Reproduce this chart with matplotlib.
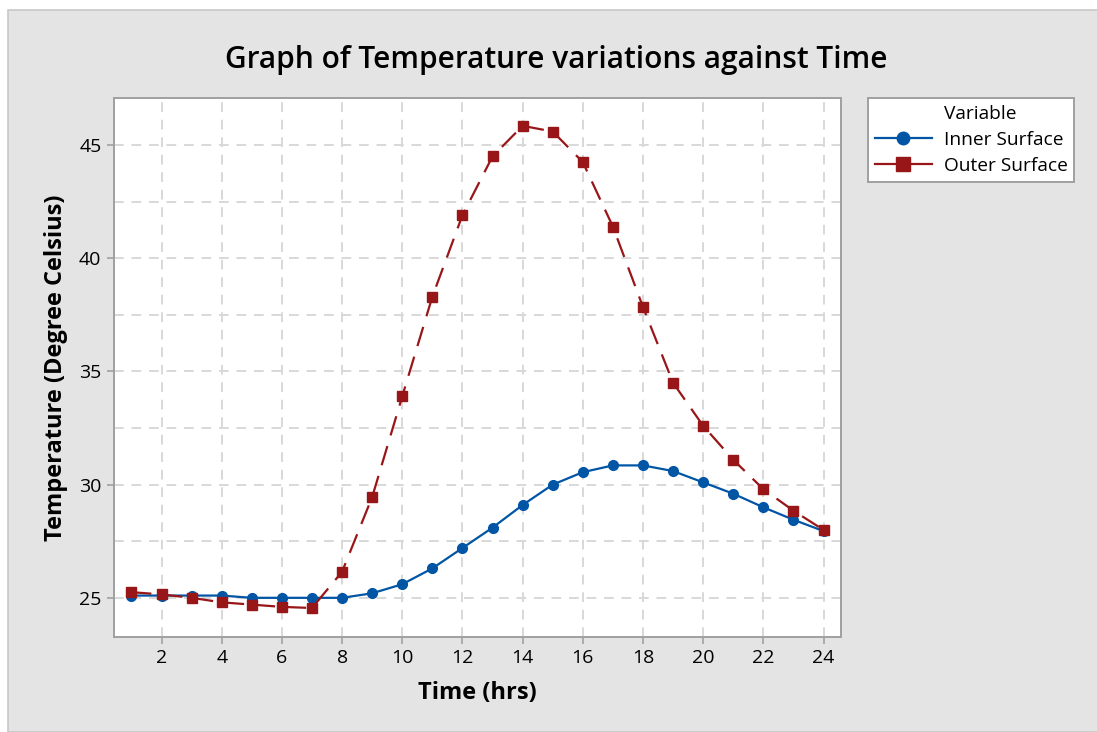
import matplotlib.pyplot as plt
from matplotlib.patches import Rectangle
from matplotlib.lines import Line2D
from matplotlib.ticker import MultipleLocator

# data
hours = list(range(1, 25))
inner_surface = [25.1, 25.1, 25.1, 25.1, 25.0, 25.0, 25.0, 25.0, 25.2, 25.6, 26.3, 27.2,
                 28.1, 29.1, 30.0, 30.55, 30.85, 30.85, 30.6, 30.1, 29.6, 29.0, 28.45, 27.95]
outer_surface = [25.25, 25.15, 25.0, 24.8, 24.7, 24.6, 24.55, 26.15, 29.45, 33.9, 38.3, 41.9,
                 44.5, 45.85, 45.6, 44.25, 41.4, 37.85, 34.5, 32.6, 31.1, 29.8, 28.85, 28.0]

plt.rcParams['font.family'] = ['Open Sans', 'DejaVu Sans']

fig = plt.figure(figsize=(10.97, 7.32), dpi=100, facecolor='white')
# grey panel like the minitab window
fig.patches.append(Rectangle((8 / 1097, 0), 1, 1 - 10 / 732, transform=fig.transFigure,
                             facecolor='#e4e4e4', edgecolor='#c8c8c8', linewidth=1.2, zorder=-10))

ax = fig.add_axes([0.1039, 0.1298, 0.6627, 0.7363])
ax.set_zorder(2)
ax.set_facecolor('white')

blue = '#0055a5'
red = '#981618'
ax.plot(hours, inner_surface, color=blue, linewidth=1.6, marker='o', markersize=7, zorder=3)
ax.plot(hours, outer_surface, color=red, linewidth=1.6, marker='s', markersize=7.5,
        dashes=(9, 5), zorder=4)

ax.set_xlim(0.42, 24.58)
ax.set_ylim(23.27, 47.08)
ax.xaxis.set_major_locator(MultipleLocator(2))
ax.yaxis.set_major_locator(MultipleLocator(5))
ax.yaxis.set_minor_locator(MultipleLocator(2.5))
ax.tick_params(axis='both', which='major', direction='out', length=5, width=1.2,
               color='#a0a0a0', labelsize=14, pad=4)
ax.tick_params(axis='y', which='minor', length=0)
ax.grid(True, which='both', color='#d8d8d8', linewidth=1.4, linestyle=(0, (5, 4)), zorder=1)
ax.grid(False, which='minor', axis='x')
for s in ax.spines.values():
    s.set_color('#a0a0a0')
    s.set_linewidth(1.4)

ax.set_xlabel('Time (hrs)', fontsize=17, fontweight='bold', labelpad=10)
ax.set_ylabel('Temperature (Degree Celsius)', fontsize=17, fontweight='bold', labelpad=8)
fig.text(556 / 1097, 1 - 60 / 732, 'Graph of Temperature variations against Time',
         fontsize=21.5, fontweight='semibold', ha='center', va='center')

# legend: "Variable" header sits over the label column
blank = Line2D([], [], linestyle='none')
inner_h = Line2D([], [], color=blue, linewidth=1.6, marker='o', markersize=9)
outer_h = Line2D([], [], color=red, linewidth=1.6, marker='s', markersize=9.5)
leg = fig.legend([blank, inner_h, outer_h], ['Variable', 'Inner Surface', 'Outer Surface'],
                 loc='upper left', bbox_to_anchor=(868 / 1097, 1 - 98 / 732),
                 fontsize=13.8, frameon=True, fancybox=False, framealpha=1,
                 handlelength=3.0, borderpad=0.35, labelspacing=0.42, handletextpad=0.6,
                 borderaxespad=0)
leg.get_frame().set_edgecolor('#a0a0a0')
leg.get_frame().set_linewidth(1.4)

fig.savefig('out.png', dpi=100, facecolor=fig.get_facecolor())
